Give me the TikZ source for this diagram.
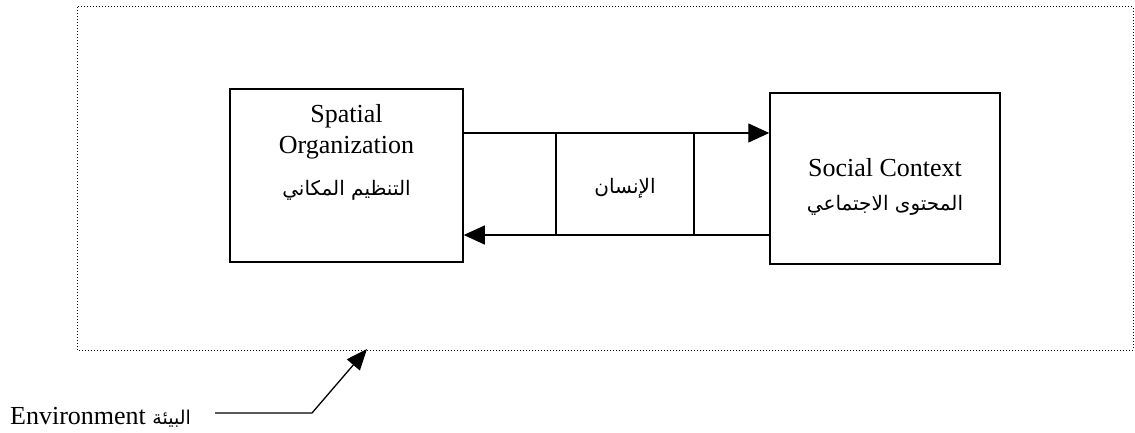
\documentclass[tikz,border=0pt]{standalone}
\usepackage{fontspec}
\setmainfont{Liberation Serif}
\newfontfamily\arabicfont[Script=Arabic]{DejaVu Sans}
\TeXXeTstate=1
\usetikzlibrary{arrows.meta}
\begin{document}
\begin{tikzpicture}[x=1pt,y=-1pt,
  box/.style={draw,line width=1.5pt,inner sep=0pt},
  link/.style={line width=1.3pt,-{Triangle[length=21pt,width=19pt]}},
  lbl/.style={font=\fontsize{26}{31}\selectfont,align=center,inner sep=0pt},
  ar/.style={font=\fontsize{20}{24}\arabicfont,inner sep=0pt}]
\useasboundingbox (0,0) rectangle (1135,433);
% environment boundary
\draw[dotted,line width=1pt] (77,7) rectangle (1133,350);
% boxes
\node[box,minimum width=233pt,minimum height=173pt] (L) at (346.5,175.5) {};
\node[box,minimum width=230pt,minimum height=171pt] (R) at (885,178.5) {};
\node[lbl] (Lt) at (346.5,132) {Spatial\\Organization};
\node[ar] (La) at (346.5,190) {\beginR التنظيم المكاني\endR};
\node[lbl] (Rt) at (885,168) {Social Context};
\node[ar] (Ra) at (885,205) {\beginR المحتوى الاجتماعي\endR};
% connectors
\coordinate (t) at (0,133);
\coordinate (b) at (0,235);
\draw[link] (L.east |- t) -- (R.west |- t);
\draw[link] (R.west |- b) -- (L.east |- b);
\coordinate (v1t) at (556,133);
\coordinate (v1b) at (556,235);
\coordinate (v2t) at (694,133);
\coordinate (v2b) at (694,235);
\draw[line width=1.3pt] (v1t) -- (v1b);
\draw[line width=1.3pt] (v2t) -- (v2b);
\node[ar] (H) at (625,188) {\beginR الإنسان\endR};
% environment label
\node[anchor=base west,inner sep=0pt,font=\fontsize{26}{30}\selectfont] (E) at (10,424)
  {Environment {\fontsize{19}{22}\arabicfont\beginR البيئة\endR}};
\coordinate (es) at (215,413);
\coordinate (ec) at (312,413);
\coordinate (et) at (367,349);
\draw[line width=1.3pt,-{Triangle[length=21pt,width=17pt]}] (es) -- (ec) -- (et);
\end{tikzpicture}
\end{document}
